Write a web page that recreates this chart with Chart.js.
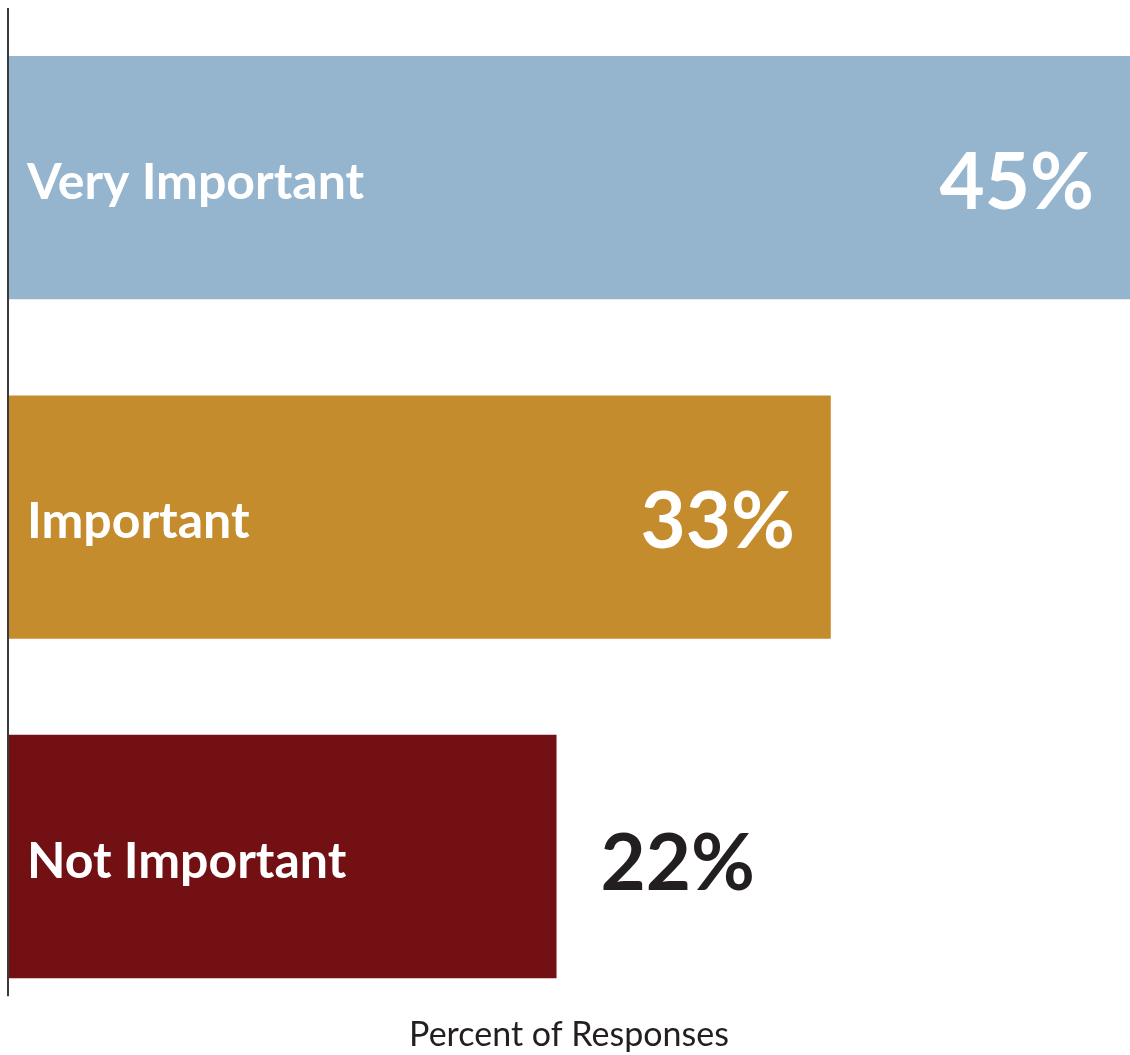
<!DOCTYPE html>
<html>
<head>
<meta charset="utf-8">
<script src="https://cdn.jsdelivr.net/npm/chart.js@4/dist/chart.umd.min.js"></script>
<style>
  html, body { margin: 0; padding: 0; background: #fff; }
  #wrap { width: 1130px; height: 1055px; }
</style>
</head>
<body>
<div id="wrap"><canvas id="responsesChart"></canvas></div>
<script>
// Response importance - horizontal bars

const categories = ['Very Important', 'Important', 'Not Important'];
const percents = [45, 33, 22];
const barColors = ['#95b4cd', '#c48c2c', '#731013'];
const axisTitle = 'Percent of Responses';

const FONT = 'Lato, "Open Sans", sans-serif';

// Draw category names and values on the bars, plus the short left axis line
const barLabels = {
  id: 'barLabels',
  afterDatasetsDraw(chart) {
    const ctx = chart.ctx;
    const meta = chart.getDatasetMeta(0);
    const area = chart.chartArea;

    // axis line stops a little under the last bar
    const last = meta.data[meta.data.length - 1];
    const lastBottom = last.y + last.height / 2;
    ctx.save();
    ctx.strokeStyle = '#3a3a3a';
    ctx.lineWidth = 2;
    ctx.beginPath();
    ctx.moveTo(area.left, area.top);
    ctx.lineTo(area.left, lastBottom + 18);
    ctx.stroke();
    ctx.restore();

    meta.data.forEach((bar, i) => {
      const { x, y, base } = bar.getProps(['x', 'y', 'base'], true);
      ctx.save();
      ctx.textBaseline = 'middle';

      ctx.font = 'bold 50px ' + FONT;
      ctx.fillStyle = '#ffffff';
      ctx.textAlign = 'left';
      const catW = ctx.measureText(categories[i]).width;
      ctx.fillText(categories[i], base + 19, y + 5);

      const valText = percents[i] + '%';
      ctx.font = 'bold 78px ' + FONT;
      const valW = ctx.measureText(valText).width;
      // value goes inside the bar only when there is plenty of room
      if (x - base > catW + valW + 160) {
        ctx.textAlign = 'right';
        ctx.fillStyle = '#ffffff';
        ctx.fillText(valText, x - 36, y + 6);
      } else {
        ctx.textAlign = 'left';
        ctx.fillStyle = '#231f20';
        ctx.fillText(valText, x + 44, y + 8);
      }
      ctx.restore();
    });
  }
};

const ctx = document.getElementById('responsesChart');
window.responsesChart = new Chart(ctx, {
  type: 'bar',
  data: {
    labels: categories,
    datasets: [{
      data: percents,
      backgroundColor: barColors,
      borderWidth: 0,
      categoryPercentage: 1,
      barPercentage: 0.717
    }]
  },
  options: {
    indexAxis: 'y',
    responsive: true,
    maintainAspectRatio: false,
    animation: false,
    layout: { padding: { top: 8, left: 8, right: 0, bottom: 0 } },
    plugins: {
      legend: { display: false },
      tooltip: { enabled: false }
    },
    scales: {
      x: {
        min: 0,
        max: 45,
        ticks: { display: false },
        grid: { display: false, drawTicks: false },
        border: { display: false },
        title: {
          display: true,
          text: axisTitle,
          color: '#231f20',
          font: { family: FONT, size: 34 },
          padding: { top: -12, bottom: 0 }
        }
      },
      y: {
        ticks: { display: false },
        grid: { display: false, drawTicks: false },
        border: { display: false }
      }
    }
  },
  plugins: [barLabels]
});
</script>
</body>
</html>
